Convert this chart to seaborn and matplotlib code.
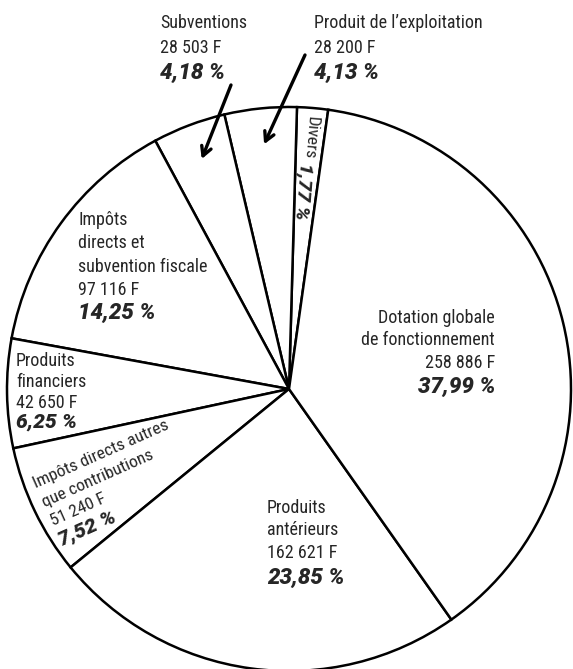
import numpy as np
import matplotlib
matplotlib.use("Agg")
import matplotlib.pyplot as plt
import seaborn as sns
from matplotlib import font_manager as fm

# ---------------- data ----------------
categories = ["Divers", "Produit de l’exploitation", "Subventions",
              "Impôts directs et subvention fiscale", "Produits financiers",
              "Impôts directs autres que contributions", "Produits antérieurs",
              "Dotation globale de fonctionnement"]
amounts = [None, 28200, 28503, 97116, 42650, 51240, 162621, 258886]
percents = [1.77, 4.13, 4.18, 14.25, 6.25, 7.52, 23.85, 37.99]
label_words = {
    "Subventions": ["Subventions"],
    "Produit de l’exploitation": ["Produit de l’exploitation"],
    "Impôts directs et subvention fiscale": ["Impôts", "directs et", "subvention fiscale"],
    "Produits financiers": ["Produits", "financiers"],
    "Impôts directs autres que contributions": ["Impôts directs autres", "que contributions"],
    "Produits antérieurs": ["Produits", "antérieurs"],
    "Dotation globale de fonctionnement": ["Dotation globale", "de fonctionnement"],
}

# ---------------- style ----------------
sns.set_theme(style="white")
names = {f.name for f in fm.fontManager.ttflist}
if "Liberation Sans Narrow" in names:
    NARROW = dict(family=["Liberation Sans Narrow", "DejaVu Sans"])
elif "Roboto Condensed" in names:
    NARROW = dict(family=["Roboto Condensed", "DejaVu Sans"])
else:
    NARROW = dict(family=["Roboto", "DejaVu Sans"], weight="medium")
BOLD = dict(family=["Roboto", "DejaVu Sans"], weight="black", style="italic")
plt.rcParams["font.family"] = NARROW["family"]

W, H = 573, 669
CX, CY, R = 289, 389, 282          # pie centre / radius in pixels
NSIZE, PSIZE = 13, 16

fig = plt.figure(figsize=(W / 100, H / 100), dpi=100)
fig.patch.set_facecolor("white")
ax = fig.add_axes([0, 0, 1, 1])

wedges, _ = ax.pie(percents, startangle=82, counterclock=True,
                   colors=["white"] * len(percents),
                   wedgeprops=dict(edgecolor="black", linewidth=1.8))
ax.set_aspect("auto")
ax.set_xlim(-CX / R, (W - CX) / R)
ax.set_ylim(-(H - CY) / R, CY / R)
ax.axis("off")


def fmt_amount(v):
    return f"{v:,}".replace(",", " ") + " F"


def fmt_pct(p):
    return f"{p:.2f}".replace(".", ",") + " %"


def fx(x):
    return x / W


def fy(y):
    return 1 - y / H


def polar(theta, r):
    t = np.deg2rad(theta)
    return CX + r * np.cos(t), CY - r * np.sin(t)


def block(name, x, baselines, ha="left", nsize=NSIZE, psize=PSIZE):
    i = categories.index(name)
    lines = label_words[name] + [fmt_amount(amounts[i])]
    for s, yb in zip(lines, baselines[:-1]):
        fig.text(fx(x), fy(yb), s, ha=ha, va="baseline", fontsize=nsize, **NARROW)
    fig.text(fx(x), fy(baselines[-1]), fmt_pct(percents[i]), ha=ha, va="baseline",
             fontsize=psize, **BOLD)


def rblock(name, x0, y0, rot, step, nsize=NSIZE, psize=PSIZE):
    i = categories.index(name)
    lines = label_words[name] + [fmt_amount(amounts[i])]
    px, py = np.sin(np.deg2rad(rot)), np.cos(np.deg2rad(rot))
    for k, s in enumerate(lines + [fmt_pct(percents[i])]):
        x, y = x0 + k * step * px, y0 + k * step * py
        props = BOLD if k == len(lines) else NARROW
        fig.text(fx(x), fy(y), s, ha="left", va="baseline", rotation=rot,
                 rotation_mode="anchor",
                 fontsize=psize if k == len(lines) else nsize, **props)


# labels outside the pie (top)
block("Subventions", 160, [28, 53, 78])
block("Produit de l’exploitation", 314, [28, 53, 78])

# arrows to the two thin wedges
def mid(w):
    return 0.5 * (w.theta1 + w.theta2)

for name, start in [("Subventions", (231, 85)), ("Produit de l’exploitation", (305, 55))]:
    w = wedges[categories.index(name)]
    tx, ty = polar(mid(w), 246)
    ax.annotate("", xy=(tx, H - ty), xycoords="figure pixels",
                xytext=(start[0], H - start[1]), textcoords="figure pixels",
                arrowprops=dict(arrowstyle="->,head_length=0.55,head_width=0.3",
                                lw=2.4, color="black", shrinkA=0, shrinkB=0))

# Divers, written along its wedge
wd = wedges[categories.index("Divers")]
md = mid(wd)
x1, y1 = polar(md, 274)
fig.text(fx(x1), fy(y1), "Divers", rotation=md - 180, rotation_mode="anchor",
         ha="left", va="center", fontsize=12.5, **NARROW)
x2, y2 = polar(md, 227)
fig.text(fx(x2), fy(y2), fmt_pct(percents[0]), rotation=md - 180, rotation_mode="anchor",
         ha="left", va="center_baseline", fontsize=14, **BOLD)

# labels inside the pie
block("Impôts directs et subvention fiscale", 78, [225, 248, 272, 295, 318])
block("Produits financiers", 16, [366, 387, 408, 428], psize=15)
rblock("Impôts directs autres que contributions", 36, 488, 24, 21, nsize=12.5, psize=15)
block("Produits antérieurs", 267, [513, 535, 558, 583])
block("Dotation globale de fonctionnement", 495, [323, 345, 368, 392], ha="right")

fig.savefig("out.png", dpi=100, facecolor="white")
